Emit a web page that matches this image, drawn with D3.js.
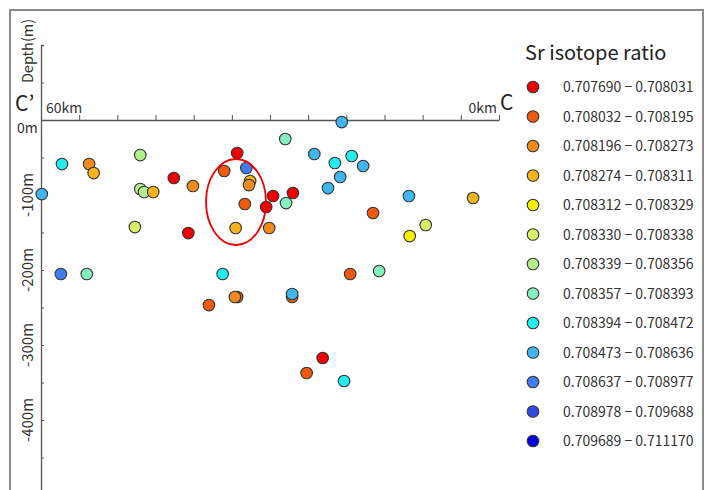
<!DOCTYPE html>
<html>
<head>
<meta charset="utf-8">
<script src="https://cdn.jsdelivr.net/npm/d3@7"></script>
<style>
  body { margin: 0; background: #fff; }
  svg text { font-family: "Noto Sans CJK JP", "Noto Sans", sans-serif; }
</style>
</head>
<body>
<div id="chart"></div>
<script>
// legend classes (Sr isotope ratio ranges)
const ratioRanges = [
  '0.707690 − 0.708031', '0.708032 − 0.708195', '0.708196 − 0.708273',
  '0.708274 − 0.708311', '0.708312 − 0.708329', '0.708330 − 0.708338',
  '0.708339 − 0.708356', '0.708357 − 0.708393', '0.708394 − 0.708472',
  '0.708473 − 0.708636', '0.708637 − 0.708977', '0.708978 − 0.709688',
  '0.709689 − 0.711170'
]
const ratioColors = ['#ee0000', '#f05a0c', '#f28a1e', '#f5b41c', '#f4f000', '#d8f066',
  '#b2ee8c', '#84f0c0', '#22eeee', '#40b6ee', '#3e7ef0', '#3048e6', '#0000e0']

// samples: distance along section (km), depth (m), ratio class index
const pointKm = [34.3, 57.25, 53.7, 53.1, 47.0, 59.9, 47.0, 46.5, 45.3, 42.6, 40.1, 47.7, 40.7,
  57.4, 54.0, 36.2, 34.6, 38.0, 28.0, 34.3, 24.2, 21.5, 19.3, 17.8, 36.0, 33.1, 32.6, 32.75,
  20.8, 22.4, 29.6, 27.0, 33.3, 30.5, 27.9, 34.5, 30.1, 19.5, 27.1, 27.1, 20.6, 11.8, 3.4,
  16.5, 9.6, 11.7, 15.7, 23.1, 25.2, 20.3]
const pointDepth = [-236, -58.7, -58.7, -70.7, -46.7, -98.7, -92, -96, -96, -77.3, -88, -142.7, -150.7,
  -205.3, -205.3, -205.3, -236, -246.7, -25.3, -44, -45.3, -57.3, -48, -61.3, -68, -64, -81.3, -86.7,
  -76, -90.7, -101.3, -97.3, -112, -116, -110.7, -144, -144, -205.3, -236, -232, -2.7, -101.3, -104,
  -124, -140, -154.7, -201.3, -317.3, -337.3, -348]
const pointClass = [1, 8, 2, 3, 6, 9, 6, 6, 3, 0, 2, 5, 0,
  10, 7, 8, 2, 1, 7, 0, 9, 8, 8, 9, 1, 10, 3, 2,
  9, 9, 0, 0, 1, 0, 7, 3, 2, 1, 1, 9, 9, 9, 3,
  1, 5, 4, 7, 0, 1, 8]

const xTicks = d3.range(0, 61, 5)
const yTicks = d3.range(100, -501, -50)
const yLabels = [0, -100, -200, -300, -400]

const width = 707, height = 490

const svg = d3.select('#chart').append('svg')
  .attr('width', width).attr('height', height)

// outer frame
svg.append('rect')
  .attr('x', 10).attr('y', 10).attr('width', 693).attr('height', 500)
  .attr('fill', 'none').attr('stroke', '#8a8a8a').attr('stroke-width', 2)

const x = d3.scaleLinear().domain([60, 0]).range([41, 499])
const y = d3.scaleLinear().domain([100, -500]).range([45, 495])

// depth axis
svg.append('g')
  .attr('transform', 'translate(' + x(60) + ',0)')
  .call(d3.axisRight(y).tickValues(yTicks).tickSize(3).tickFormat(''))
  .call(g => g.select('.domain').attr('stroke', '#555').attr('stroke-width', 1.3))
  .call(g => g.selectAll('.tick line').attr('stroke', '#555'))

// distance axis
svg.append('g')
  .attr('transform', 'translate(0,' + y(0) + ')')
  .call(d3.axisTop(x).tickValues(xTicks).tickSize(5).tickSizeOuter(0).tickFormat(''))
  .call(g => g.select('.domain').attr('stroke', '#555').attr('stroke-width', 1.3))
  .call(g => g.selectAll('.tick line').attr('stroke', '#555'))

svg.append('text').attr('x', 17).attr('y', 133)
  .attr('font-size', 14).attr('fill', '#333').text('0m')

svg.selectAll('.ylab')
  .data(yLabels.filter(d => d !== 0))
  .enter().append('text')
  .attr('class', 'ylab')
  .attr('transform', d => 'translate(33,' + y(d) + ') rotate(-90)')
  .attr('text-anchor', 'middle')
  .attr('font-size', 15).attr('fill', '#333')
  .text(d => d + 'm')

svg.append('text')
  .attr('transform', 'translate(33,51) rotate(-90)')
  .attr('text-anchor', 'middle')
  .attr('font-size', 14.5).attr('fill', '#333').text('Depth(m)')

svg.append('text').attr('x', 46).attr('y', 113)
  .attr('font-size', 14).attr('fill', '#333').text('60km')
svg.append('text').attr('x', 497).attr('y', 113).attr('text-anchor', 'end')
  .attr('font-size', 14).attr('fill', '#333').text('0km')

svg.append('text').attr('x', 15).attr('y', 111)
  .attr('font-size', 21).attr('fill', '#222').text('C’')
svg.append('text').attr('x', 500).attr('y', 110)
  .attr('font-size', 21).attr('fill', '#222').text('C')

// samples
const pts = pointKm.map((d, i) => ({km: d, depth: pointDepth[i], c: pointClass[i]}))
svg.selectAll('.pt')
  .data(pts)
  .enter().append('circle')
  .attr('class', 'pt')
  .attr('cx', d => x(d.km))
  .attr('cy', d => y(d.depth))
  .attr('r', 5.8)
  .attr('fill', d => ratioColors[d.c])
  .attr('stroke', '#333')
  .attr('stroke-width', 1.1)

// highlighted group
svg.append('ellipse')
  .attr('cx', 236).attr('cy', 202).attr('rx', 30).attr('ry', 43)
  .attr('fill', 'none').attr('stroke', '#ee0000').attr('stroke-width', 1.8)

// legend
const legend = svg.append('g')
legend.append('text').attr('x', 525).attr('y', 60)
  .attr('font-size', 20).attr('fill', '#222').text('Sr isotope ratio')

const row = legend.selectAll('.row')
  .data(ratioRanges)
  .enter().append('g')
  .attr('class', 'row')
  .attr('transform', (d, i) => 'translate(0,' + (87 + i * 29.5) + ')')

row.append('circle')
  .attr('cx', 533).attr('cy', 0).attr('r', 5.8)
  .attr('fill', (d, i) => ratioColors[i])
  .attr('stroke', '#333').attr('stroke-width', 1.1)

row.append('text')
  .attr('x', 563).attr('y', 5)
  .attr('font-size', 14).attr('fill', '#333')
  .text(d => d)
</script>
</body>
</html>
